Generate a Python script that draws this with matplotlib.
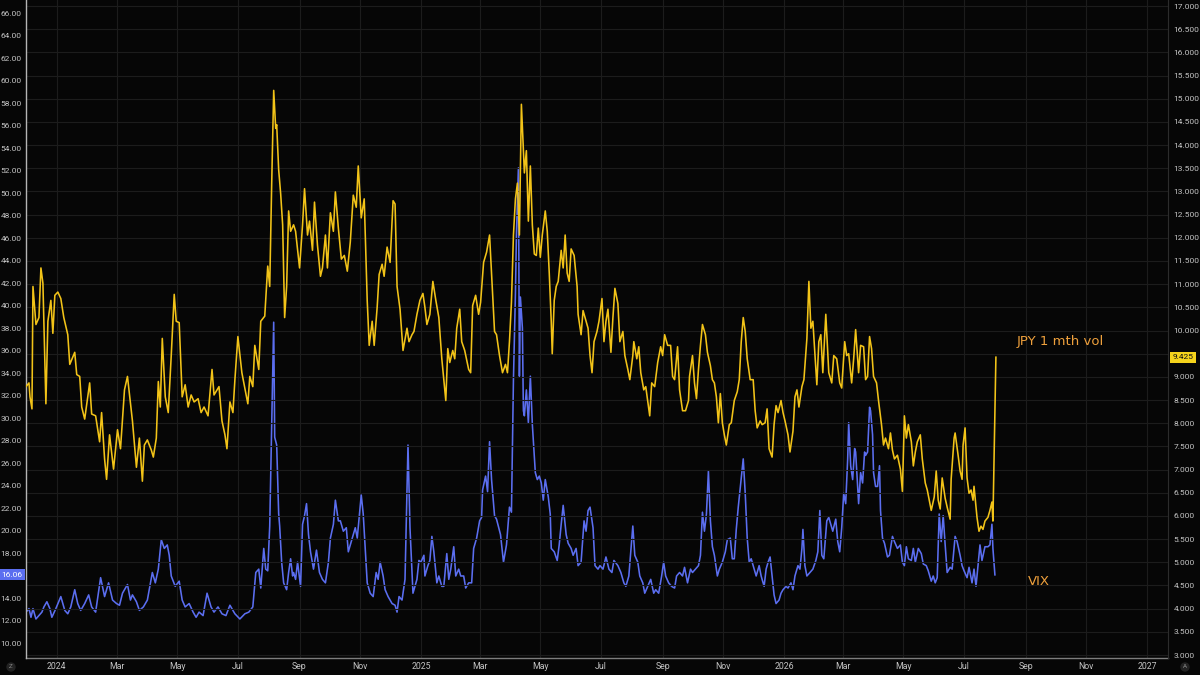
import numpy as np
import pandas as pd
import matplotlib
matplotlib.use('Agg')
import matplotlib.pyplot as plt
import matplotlib.dates as mdates
from matplotlib.ticker import FixedLocator, FuncFormatter

plt.rcParams['font.family'] = ['Roboto', 'DejaVu Sans']

# ---- data ----
base_date = '2023-12-01'

jpy_day = [0, 3, 4, 6, 7, 10, 13, 15, 17, 20, 22, 25, 27, 29, 32, 35, 38, 42, 44, 49,
           51, 54, 56, 59, 64, 66, 70, 74, 76, 79, 81, 84, 88, 92, 95, 99, 102, 107, 111, 114,
           117, 119, 122, 126, 128, 131, 133, 135, 137, 140, 143, 146, 149, 151, 154, 157, 160, 163, 166, 169,
           173, 176, 179, 183, 187, 189, 194, 197, 200, 202, 205, 208, 210, 213, 217, 223, 225, 228, 230, 234,
           236, 240, 243, 245, 247, 249, 251, 252, 254, 256, 258, 260, 262, 264, 266, 269, 271, 275, 278, 280,
           283, 285, 288, 290, 293, 296, 298, 301, 303, 306, 309, 311, 314, 317, 320, 323, 326, 329, 332, 334,
           337, 340, 343, 345, 348, 350, 353, 355, 358, 360, 363, 366, 369, 371, 373, 376, 379, 383, 385, 388,
           390, 393, 396, 399, 401, 403, 406, 409, 412, 415, 418, 420, 422, 424, 426, 429, 431, 433, 436, 438,
           441, 445, 447, 449, 452, 455, 457, 460, 463, 466, 468, 471, 473, 476, 479, 482, 484, 486, 488, 490,
           492, 494, 496, 498, 501, 503, 505, 507, 509, 511, 513, 515, 517, 519, 522, 524, 526, 528, 529, 531,
           533, 535, 538, 540, 542, 544, 546, 548, 551, 554, 555, 558, 560, 563, 565, 567, 569, 571, 574, 576,
           579, 581, 583, 585, 588, 590, 592, 595, 597, 600, 602, 605, 607, 610, 611, 614, 616, 618, 621, 623,
           627, 629, 632, 635, 638, 640, 642, 645, 648, 650, 652, 655, 657, 660, 663, 666, 667, 670, 672, 674,
           676, 678, 680, 683, 685, 688, 690, 692, 694, 696, 698, 700, 702, 704, 707, 709, 712, 715, 717, 719,
           721, 723, 725, 728, 731, 733, 735, 738, 740, 743, 745, 747, 750, 752, 754, 756, 759, 761, 763, 766,
           768, 771, 773, 775, 777, 780, 782, 785, 787, 789, 791, 795, 797, 799, 801, 804, 807, 810, 812, 815,
           818, 820, 823, 825, 827, 830, 832, 834, 837, 839, 842, 844, 846, 848, 850, 852, 855, 857, 860, 862,
           864, 867, 869, 871, 873, 876, 879, 881, 883, 885, 887, 890, 892, 894, 896, 899, 901, 904, 906, 908,
           910, 913, 915, 917, 919, 921, 924, 926, 929, 930, 933, 934, 937, 939, 941, 942, 944, 946, 948, 950,
           952, 953, 956, 958, 960, 962, 964, 967, 969, 971, 972, 975]
jpy_vol = [8.79, 8.87, 8.57, 8.31, 10.95, 10.13, 10.28, 11.35, 11.02, 8.42, 10.20, 10.65, 9.94, 10.76, 10.83, 10.69, 10.28, 9.91, 9.27, 9.53,
           9.05, 9.01, 8.35, 8.09, 8.87, 8.20, 8.16, 7.60, 8.23, 7.23, 6.79, 7.75, 7.01, 7.86, 7.45, 8.72, 9.01, 8.05, 7.05, 7.68,
           6.75, 7.53, 7.64, 7.42, 7.27, 7.68, 8.90, 8.35, 9.83, 8.57, 8.23, 9.46, 10.78, 10.20, 10.17, 8.57, 8.83, 8.35, 8.61, 8.46,
           8.53, 8.23, 8.35, 8.16, 9.16, 8.61, 8.79, 8.05, 7.75, 7.45, 8.46, 8.23, 8.94, 9.87, 9.09, 8.42, 9.01, 8.79, 9.68, 9.16,
           10.20, 10.31, 11.39, 10.95, 13.18, 15.18, 14.36, 14.44, 13.47, 12.95, 12.28, 10.28, 10.95, 12.58, 12.14, 12.28, 12.14, 11.35, 12.28, 13.06,
           12.06, 12.36, 11.73, 12.77, 11.84, 11.17, 11.35, 12.06, 11.35, 12.54, 12.14, 12.99, 12.21, 11.54, 11.62, 11.28, 11.91, 12.92, 12.66, 13.55,
           12.43, 12.84, 10.65, 9.68, 10.20, 9.68, 10.50, 11.21, 11.43, 11.17, 11.80, 11.47, 12.80, 12.73, 10.95, 10.46, 9.57, 10.05, 9.76, 9.91,
           9.98, 10.35, 10.65, 10.80, 10.50, 10.13, 10.35, 11.06, 10.65, 10.28, 9.39, 8.94, 8.49, 9.61, 9.31, 9.57, 9.39, 10.05, 10.46, 9.76,
           9.57, 9.16, 9.09, 10.54, 10.76, 10.35, 10.61, 11.47, 11.69, 12.06, 11.24, 9.98, 9.91, 9.46, 9.09, 9.27, 9.09, 9.76, 10.61, 12.06,
           12.84, 13.18, 12.06, 14.88, 13.40, 13.88, 12.36, 13.55, 12.28, 11.65, 11.62, 12.21, 11.58, 12.06, 12.58, 12.14, 11.24, 10.20, 9.50, 10.65,
           10.95, 11.06, 11.73, 11.35, 12.06, 11.24, 11.06, 11.76, 11.62, 10.95, 10.35, 9.91, 10.43, 10.20, 10.05, 9.46, 9.09, 9.76, 9.98, 10.20,
           10.69, 9.76, 10.20, 10.46, 9.53, 10.28, 10.91, 10.58, 9.76, 9.98, 9.46, 9.16, 8.94, 9.46, 9.76, 9.39, 9.65, 9.09, 8.72, 8.79,
           8.16, 8.87, 8.79, 9.31, 9.65, 9.46, 9.91, 9.68, 9.68, 9.01, 8.94, 9.65, 8.72, 8.27, 8.27, 8.49, 9.01, 9.46, 8.87, 8.53,
           9.16, 9.68, 10.13, 9.91, 9.53, 9.24, 8.94, 8.87, 8.57, 8.01, 8.64, 8.01, 7.75, 7.53, 7.97, 8.01, 8.49, 8.68, 8.94, 9.76,
           10.28, 9.98, 9.39, 8.94, 8.94, 8.27, 7.90, 8.05, 7.97, 8.01, 8.31, 7.45, 7.27, 7.97, 8.38, 8.23, 8.49, 8.23, 8.05, 7.75,
           7.38, 7.83, 8.57, 8.72, 8.35, 8.79, 8.94, 9.83, 11.06, 10.05, 10.20, 8.83, 9.76, 9.91, 9.09, 10.35, 9.09, 8.87, 9.46, 9.39,
           8.87, 8.76, 9.76, 9.46, 9.50, 8.87, 9.39, 10.02, 9.09, 9.68, 9.65, 8.94, 9.01, 9.87, 9.61, 9.01, 8.87, 8.49, 7.97, 7.53,
           7.68, 7.45, 7.79, 7.42, 7.23, 7.31, 7.01, 6.53, 8.16, 7.68, 7.97, 7.60, 7.08, 7.38, 7.60, 7.75, 7.23, 6.71, 6.56, 6.34,
           6.12, 6.41, 6.97, 6.34, 6.15, 6.82, 6.38, 6.19, 5.93, 6.79, 7.68, 7.79, 7.31, 6.97, 6.79, 7.53, 7.90, 6.82, 6.49, 6.56,
           6.34, 6.64, 5.97, 5.67, 5.78, 5.71, 5.89, 5.97, 6.12, 6.30, 5.89, 9.425]

vix_day = [0, 3, 5, 7, 10, 13, 16, 18, 21, 24, 26, 30, 35, 39, 42, 45, 49, 52, 55, 59,
           63, 66, 70, 75, 79, 83, 87, 91, 94, 97, 102, 105, 107, 111, 114, 118, 122, 127, 130, 133,
           136, 139, 142, 144, 146, 150, 154, 157, 160, 164, 168, 171, 174, 178, 182, 186, 189, 193, 197, 201,
           205, 210, 215, 220, 224, 228, 231, 234, 236, 239, 241, 243, 245, 247, 249, 250, 252, 254, 255, 257,
           259, 262, 264, 266, 268, 269, 271, 273, 276, 278, 280, 282, 284, 286, 289, 292, 295, 298, 301, 304,
           306, 309, 311, 314, 316, 319, 322, 324, 327, 331, 333, 337, 339, 343, 346, 349, 352, 354, 356, 359,
           361, 364, 368, 371, 373, 375, 378, 381, 384, 386, 389, 393, 395, 397, 400, 401, 404, 406, 408, 410,
           413, 415, 418, 420, 423, 425, 427, 430, 432, 435, 437, 440, 442, 445, 448, 450, 453, 456, 458, 459,
           462, 464, 466, 468, 471, 473, 477, 480, 483, 486, 488, 490, 492, 493, 495, 496, 497, 499, 500, 501,
           503, 505, 507, 509, 512, 514, 516, 518, 520, 522, 525, 527, 528, 531, 534, 536, 538, 540, 543, 545,
           548, 550, 553, 555, 558, 561, 563, 565, 567, 570, 572, 575, 577, 580, 583, 586, 589, 591, 595, 598,
           601, 603, 606, 610, 612, 615, 617, 620, 622, 625, 628, 631, 633, 636, 639, 641, 643, 646, 649, 652,
           654, 657, 660, 662, 665, 668, 670, 673, 676, 678, 680, 682, 684, 686, 688, 690, 692, 695, 697, 700,
           703, 705, 708, 710, 712, 714, 716, 719, 721, 723, 725, 727, 729, 732, 734, 737, 739, 742, 744, 746,
           748, 750, 752, 754, 757, 759, 761, 764, 766, 769, 771, 773, 776, 778, 780, 781, 783, 785, 788, 791,
           794, 796, 798, 800, 802, 805, 807, 809, 811, 814, 816, 818, 820, 822, 824, 826, 827, 829, 831, 833,
           834, 837, 839, 841, 843, 844, 846, 848, 849, 851, 852, 854, 856, 858, 859, 861, 863, 866, 868, 871,
           873, 876, 879, 881, 883, 885, 887, 890, 892, 894, 897, 900, 902, 905, 907, 910, 912, 914, 916, 918,
           920, 922, 924, 926, 929, 931, 934, 936, 939, 941, 943, 946, 948, 951, 953, 955, 957, 959, 961, 964,
           967, 969, 971, 972, 974]
vix_close = [12.75, 13.06, 12.29, 13.06, 12.14, 12.44, 12.75, 13.21, 13.67, 13.06, 12.29, 13.06, 14.13, 12.90, 12.60, 13.21, 14.74, 13.51, 12.90, 13.51,
             14.28, 13.21, 12.75, 15.81, 14.13, 15.35, 13.82, 13.51, 13.36, 14.43, 15.20, 13.82, 14.28, 13.67, 12.90, 13.21, 13.82, 16.27, 15.35, 16.57,
             19.18, 18.41, 18.72, 17.80, 15.96, 15.04, 15.50, 13.82, 13.21, 13.51, 12.75, 12.29, 12.75, 12.44, 14.43, 13.21, 12.75, 13.21, 12.60, 12.44,
             13.36, 12.60, 12.14, 12.60, 12.75, 13.21, 16.27, 16.57, 14.89, 18.41, 16.57, 16.42, 20.40, 29.43, 38.52, 28.30, 27.60, 21.50, 20.40, 17.19,
             15.35, 14.74, 16.27, 17.49, 15.96, 16.27, 15.66, 17.19, 15.04, 20.55, 21.32, 22.39, 19.64, 18.11, 16.57, 18.26, 16.27, 15.66, 15.35, 17.19,
             19.33, 20.55, 22.70, 20.86, 20.86, 19.94, 20.25, 18.11, 19.02, 20.25, 19.33, 23.16, 21.47, 15.35, 14.43, 14.13, 16.27, 15.66, 17.19, 15.96,
             14.74, 14.13, 13.51, 13.36, 12.75, 14.13, 13.82, 15.66, 27.60, 20.25, 14.43, 15.66, 17.34, 17.19, 17.80, 15.96, 16.88, 17.34, 19.48, 18.11,
             15.35, 15.96, 15.04, 15.04, 17.95, 15.66, 16.57, 18.56, 15.96, 16.57, 15.96, 15.96, 14.89, 15.35, 15.35, 18.41, 19.33, 20.86, 21.17, 23.62,
             24.84, 23.46, 27.90, 24.53, 21.32, 21.01, 19.64, 17.19, 18.72, 22.08, 21.63, 33.41, 41.07, 46.27, 52.24, 33.72, 40.76, 38.00, 30.66, 30.20,
             32.50, 29.59, 33.72, 29.43, 25.15, 24.53, 24.84, 24.23, 22.70, 24.53, 23.00, 21.47, 18.41, 18.11, 17.34, 18.72, 20.55, 22.24, 19.64, 18.87,
             18.41, 17.80, 18.41, 16.88, 17.19, 20.86, 19.94, 21.78, 22.08, 20.25, 16.88, 16.57, 16.88, 16.57, 17.65, 16.57, 16.27, 17.34, 16.88, 16.27,
             15.35, 15.04, 15.96, 20.40, 17.80, 17.19, 15.96, 15.35, 14.43, 15.04, 15.66, 14.43, 14.74, 14.43, 15.96, 17.19, 15.96, 15.35, 15.04, 14.89,
             15.96, 16.27, 15.96, 16.73, 15.35, 16.57, 16.27, 16.57, 16.88, 17.80, 21.63, 19.94, 21.47, 25.30, 20.86, 18.56, 17.80, 15.96, 16.57, 17.19,
             18.11, 19.18, 19.33, 17.49, 17.49, 20.10, 22.08, 24.69, 26.37, 23.31, 19.33, 17.19, 17.49, 16.57, 15.96, 16.88, 15.96, 15.04, 16.57, 17.19,
             17.65, 15.96, 14.28, 13.51, 13.82, 14.43, 14.74, 15.04, 14.89, 15.35, 14.74, 15.96, 16.88, 16.57, 18.41, 20.10, 16.88, 15.96, 16.27, 16.57,
             17.34, 18.11, 21.78, 17.80, 17.49, 20.86, 21.17, 20.55, 19.94, 21.01, 19.02, 18.11, 20.25, 23.31, 22.39, 26.37, 29.59, 25.76, 24.53, 27.29,
             26.98, 22.39, 25.15, 24.23, 26.98, 26.68, 26.98, 30.96, 30.66, 28.52, 25.15, 23.92, 23.92, 25.76, 21.78, 19.33, 18.87, 17.65, 17.80, 19.48,
             19.02, 18.41, 18.72, 17.19, 16.88, 18.56, 17.49, 17.34, 18.41, 17.19, 18.41, 17.95, 17.03, 16.88, 16.42, 15.50, 15.96, 15.35, 15.81, 21.47,
             19.02, 21.32, 18.72, 16.27, 16.73, 16.57, 19.48, 19.02, 17.80, 16.88, 16.42, 15.81, 16.73, 15.35, 16.57, 15.04, 16.88, 18.72, 17.34, 18.56,
             18.56, 18.72, 20.56, 18.41, 16.06]

jpy_label = 'JPY 1 mth vol'
vix_label = 'VIX'

# ---- style ----
bg = '#060606'
grid_c = '#1c1c1c'
txt_c = '#c4c4c4'
yellow = '#f2c318'
blue = '#5b6ef0'
orange = '#eea03c'

t0 = pd.Timestamp(base_date)
jpy_dates = t0 + pd.to_timedelta(jpy_day, unit='D')
vix_dates = t0 + pd.to_timedelta(vix_day, unit='D')
vix_last = vix_close[-1]
jpy_last = jpy_vol[-1]

fig = plt.figure(figsize=(12, 6.75), dpi=100, facecolor=bg)
ax = fig.add_axes([26 / 1200, 17 / 675, 1142 / 1200, 658 / 675])
ax.set_facecolor(bg)
ax2 = ax.twinx()

ax.plot(vix_dates, vix_close, color=blue, lw=1.15, zorder=3)
ax2.plot(jpy_dates, jpy_vol, color=yellow, lw=1.15, zorder=3)

ax.set_xlim(t0, pd.Timestamp('2027-01-22'))
ax.set_ylim(8.67, 67.16)
ax2.set_ylim(2.936, 17.13)

# x axis: every other month, year at January
ax.xaxis.set_major_locator(mdates.MonthLocator(bymonth=[1, 3, 5, 7, 9, 11]))
ax.xaxis.set_major_formatter(FuncFormatter(
    lambda v, p: mdates.num2date(v).strftime('%Y' if mdates.num2date(v).month == 1 else '%b')))
ax.grid(True, axis='x', color=grid_c, lw=0.8)
ax.set_axisbelow(True)

# price scales; the tick hidden under each last-value tag is left blank
ax.yaxis.set_major_locator(FixedLocator(np.arange(10, 67, 2)))
ax.yaxis.set_major_formatter(FuncFormatter(
    lambda v, p: '' if abs(v - vix_last) < 1.2 else f'{v:.2f}'))
ax2.yaxis.set_major_locator(FixedLocator(np.arange(3, 17.01, 0.5)))
ax2.yaxis.set_major_formatter(FuncFormatter(
    lambda v, p: '' if abs(v - jpy_last) < 0.3 else f'{v:.3f}'))
ax2.grid(True, axis='y', color=grid_c, lw=0.8, zorder=0)
ax2.set_axisbelow(True)

ax.tick_params(axis='x', length=0, pad=3, labelsize=6.3, labelcolor=txt_c)
ax.tick_params(axis='y', length=0, pad=3, labelsize=6, labelcolor=txt_c)
ax2.tick_params(axis='y', length=0, pad=4, labelsize=6, labelcolor=txt_c)

for s in ['top', 'right', 'left']:
    ax.spines[s].set_visible(False)
ax.spines['bottom'].set_color('#7d7d7d')
ax.spines['bottom'].set_linewidth(1.0)
for s in ['top', 'bottom']:
    ax2.spines[s].set_visible(False)
ax2.spines['left'].set_color('#b5b5b5')
ax2.spines['left'].set_linewidth(1.0)
ax2.spines['right'].set_color('#2c2c2c')

# last-value tags
ax.annotate(f'{vix_last:.2f}', xy=(0, vix_last), xycoords=('axes fraction', 'data'),
            xytext=(-2.5, 0), textcoords='offset points', ha='right', va='center',
            fontsize=6, color='white',
            bbox=dict(boxstyle='square,pad=0.3', fc=blue, ec='none'), annotation_clip=False)
ax2.annotate(f'{jpy_last:.3f}', xy=(1, jpy_last), xycoords=('axes fraction', 'data'),
             xytext=(3, 0), textcoords='offset points', ha='left', va='center',
             fontsize=6, color='#111111',
             bbox=dict(boxstyle='square,pad=0.3', fc='#f5d31c', ec='none'), annotation_clip=False)

# series labels
ax2.text(t0 + pd.Timedelta(days=996), 9.77, jpy_label, color=orange, fontsize=9.5,
         family=['DejaVu Sans'], ha='left', va='center')
ax2.text(t0 + pd.Timedelta(days=1007), 4.58, vix_label, color=orange, fontsize=9.5,
         family=['DejaVu Sans'], ha='left', va='center')

# small corner buttons
for fx, ch in [(11 / 1200, 'Z'), (1185 / 1200, 'A')]:
    fig.text(fx, 1 - 667 / 675, ch, ha='center', va='center', fontsize=4.5, color='#8a8a8a',
             bbox=dict(boxstyle='circle,pad=0.35', fc='#222222', ec='none'))

fig.savefig('out.png', dpi=100, facecolor=bg)
